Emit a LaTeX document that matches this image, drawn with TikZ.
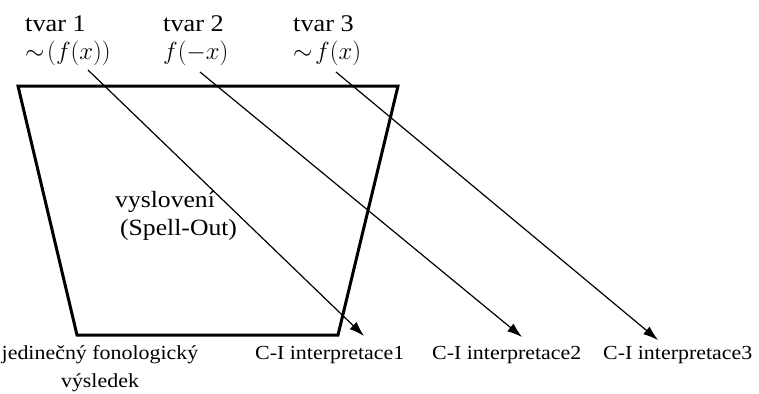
\documentclass[tikz,border=0pt]{standalone}
\usepackage{fontspec}
\usepackage{amsmath,amssymb}
\setmainfont{Liberation Serif}[FakeStretch=1.1]
\usetikzlibrary{arrows.meta}

\begin{document}
\begin{tikzpicture}[x=1bp,y=-1bp,lbl/.style ={inner sep=0pt, anchor=base west, font=\fontsize{24}{28}\selectfont},mid/.style ={inner sep=0pt, anchor=base west, font=\fontsize{23.4}{28}\selectfont},res/.style ={inner sep=0pt, anchor=base west, font=\fontsize{20}{28}\selectfont},frm/.style ={line width=3bp, line join=miter},arr/.style ={line width=1.2bp, -{Latex[length=15bp,width=10bp]}}] 

\useasboundingbox (0,0) rectangle (759,393);

%top labels (forms)
\node[lbl] at (25,31) (t1){tvar 1};
\node[lbl] at (25,59) (f1){$\sim\!(f(x))$};
\node[lbl] at (163,31) (t2){tvar 2};
\node[lbl] at (163,59) (f2){$f(-x)$};
\node[lbl] at (293,31) (t3){tvar 3};
\node[lbl] at (293,59) (f3){$\sim\! f(x)$};

%spell-out box
\draw[frm] (18,86) -- (398,86) -- (338,335) -- (77,335) -- cycle;
\node[mid, align=left] at (115,235) (so){vyslovení\\\hspace*{5bp}(Spell-Out)};

%bottom labels
\node[res, align=center, anchor=base] at (100,387) (pf){jedinečný fonologický\\výsledek};
\node[res] at (255,359) (c1){C-I interpretace1};
\node[res] at (432,359) (c2){C-I interpretace2};
\node[res] at (603,359) (c3){C-I interpretace3};

%arrows from forms to interpretations
\coordinate (s1) at (88,70);
\coordinate (s2) at (200,72);
\coordinate (s3) at (336,72);
\coordinate (e1) at (364,336);
\coordinate (e2) at (522,337);
\coordinate (e3) at (658,340);
\draw[arr] (s1) -- (e1);
\draw[arr] (s2) -- (e2);
\draw[arr] (s3) -- (e3);
\end{tikzpicture}
\end{document}
